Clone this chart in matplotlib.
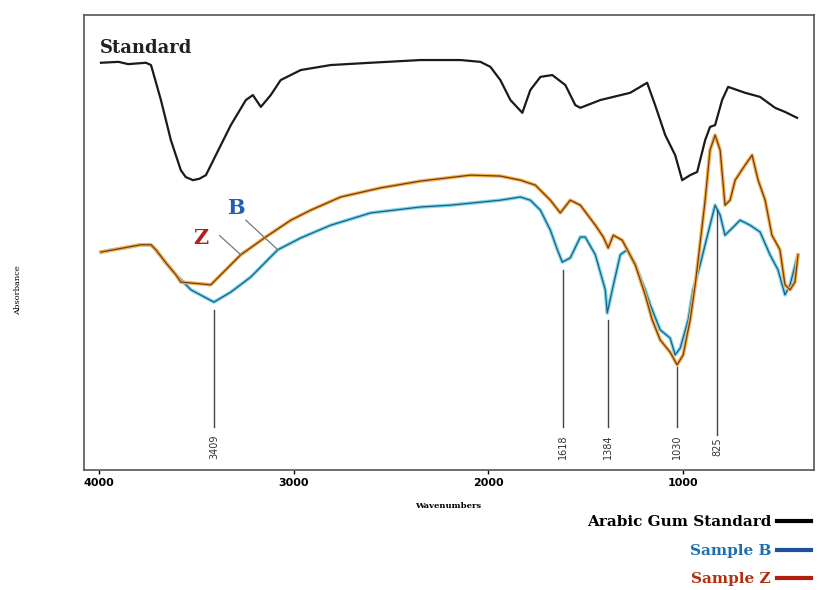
import numpy as np
import matplotlib.pyplot as plt
from matplotlib.lines import Line2D

# FTIR spectra (wavenumber in cm-1, absorbance in arbitrary units)
std_wn = [3990, 3900, 3850, 3759, 3733, 3682, 3631, 3580, 3555, 3518, 3485, 3451, 3400, 3323,
          3246, 3210, 3169, 3118, 3067, 2964, 2810, 2605, 2349, 2144, 2041, 1990, 1939, 1887,
          1826, 1785, 1733, 1672, 1605, 1554, 1528, 1426, 1272, 1185, 1144, 1092, 1041, 1005,
          964, 928, 887, 862, 836, 800, 769, 682, 605, 528, 477, 415]
std_abs = [89.5, 89.7, 89.2, 89.5, 89.0, 81.3, 72.5, 65.9, 64.4, 63.7, 64.0, 64.8, 69.2, 75.8,
           81.3, 82.4, 79.8, 82.4, 85.7, 87.9, 89.0, 89.5, 90.1, 90.1, 89.7, 88.6, 85.7, 81.3,
           78.5, 83.5, 86.4, 86.8, 84.6, 80.2, 79.6, 81.3, 82.9, 85.1, 80.2, 73.6, 69.2, 63.7,
           64.8, 65.5, 72.5, 75.4, 75.8, 81.3, 84.2, 82.9, 82.0, 79.6, 78.7, 77.4]

z_wn = [3990, 3785, 3733, 3708, 3656, 3605, 3580, 3426, 3349, 3272, 3144, 3015, 2913, 2759,
        2554, 2349, 2092, 1939, 1836, 1759, 1682, 1631, 1580, 1528, 1451, 1410, 1385, 1359,
        1313, 1246, 1195, 1159, 1118, 1067, 1031, 1000, 964, 938, 887, 862, 836, 810, 785,
        759, 733, 682, 646, 615, 579, 544, 503, 477, 451, 426, 410]
z_abs = [47.9, 49.5, 49.5, 48.4, 45.5, 42.9, 41.3, 40.7, 44.0, 47.3, 51.2, 54.9, 57.1, 60.0,
         62.0, 63.5, 64.8, 64.6, 63.7, 62.6, 59.3, 56.5, 59.3, 58.2, 53.8, 51.2, 48.8, 51.6,
         50.5, 45.1, 38.5, 33.0, 28.6, 25.9, 23.1, 25.3, 33.0, 40.7, 59.3, 70.3, 73.6, 70.3,
         58.2, 59.3, 63.7, 67.0, 69.2, 63.7, 59.3, 51.6, 48.4, 40.7, 39.6, 41.3, 47.3]

b_wn = [3990, 3785, 3733, 3708, 3656, 3605, 3528, 3410, 3323, 3221, 3082, 2964, 2810, 2605,
        2349, 2195, 1939, 1836, 1785, 1733, 1682, 1646, 1621, 1580, 1528, 1503, 1451, 1400,
        1390, 1364, 1323, 1287, 1246, 1195, 1169, 1118, 1067, 1041, 1015, 974, 949, 913, 862,
        836, 810, 785, 733, 708, 656, 605, 554, 513, 477, 451, 415]
b_abs = [47.9, 49.5, 49.5, 48.4, 45.5, 42.9, 39.6, 36.9, 39.1, 42.4, 48.4, 51.0, 53.8, 56.5,
         57.8, 58.2, 59.3, 60.0, 59.3, 57.1, 52.7, 48.4, 45.7, 46.6, 51.2, 51.2, 47.3, 39.6,
         34.5, 39.6, 47.3, 48.4, 45.1, 39.6, 36.3, 30.8, 29.0, 25.3, 26.8, 33.0, 39.6, 45.1,
         53.8, 58.2, 56.0, 51.6, 53.8, 54.9, 53.8, 52.3, 47.3, 44.0, 38.5, 40.7, 46.6]

# marked peaks and the height where each marker line starts
peaks = [3409, 1618, 1384, 1030, 825]
peak_tops = [35.2, 44.0, 33.0, 22.6, 57.1]

fig = plt.figure(figsize=(8.19, 5.90), dpi=100)
ax = fig.add_axes([0.1026, 0.2034, 0.8913, 0.7712])

serif = ['DejaVu Serif']

ax.plot(std_wn, std_abs, color='#1a1a1a', lw=1.6, solid_joinstyle='round')
ax.plot(b_wn, b_abs, color='#7fd6ea', lw=2.6, solid_joinstyle='round')
ax.plot(b_wn, b_abs, color='#1d5f86', lw=0.9)
ax.plot(z_wn, z_abs, color='#f2b451', lw=2.6, solid_joinstyle='round')
ax.plot(z_wn, z_abs, color='#7a3a12', lw=0.9)

for p, top in zip(peaks, peak_tops):
    bottom = 7.7 if p == 825 else 9.5
    ax.plot([p, p], [top, bottom], color='#444444', lw=1.0)
    ax.text(p, 5.2, str(p), rotation=90, ha='center', va='center',
            fontsize=7, color='#333333')

ax.text(3995, 92.7, 'Standard', fontsize=13, fontweight='bold', family=serif,
        color='#222222', ha='left', va='center')
ax.text(3475, 51.0, 'Z', fontsize=15, fontweight='bold', family=serif,
        color='#b02020', ha='center', va='center')
ax.text(3295, 57.5, 'B', fontsize=15, fontweight='bold', family=serif,
        color='#1f5fb0', ha='center', va='center')
ax.plot([3380, 3272], [51.5, 47.3], color='#777777', lw=0.9)
ax.plot([3246, 3082], [54.9, 48.4], color='#777777', lw=0.9)

ax.set_xlim(4077, 328)
ax.set_ylim(0, 100)
ax.set_xticks([4000, 3000, 2000, 1000])
ax.set_xticklabels(['4000', '3000', '2000', '1000'], fontsize=8, fontweight='bold')
ax.set_yticks([])
ax.tick_params(axis='x', length=3, width=1, direction='out', pad=3)
for s in ax.spines.values():
    s.set_color('#555555')
    s.set_linewidth(1.2)

fig.text(0.547, 0.142, 'Wavenumbers', fontsize=6, fontweight='bold', family=serif,
         ha='center', va='center')
fig.text(0.022, 0.508, 'Absorbance', fontsize=6, family=serif, rotation=90,
         ha='center', va='center')

handles = [Line2D([], [], color='black', lw=3),
           Line2D([], [], color='#1f4fa0', lw=3),
           Line2D([], [], color='#b02010', lw=3)]
labels = ['Arabic Gum Standard', 'Sample B', 'Sample Z']
fig.legend(handles, labels, loc='lower right', bbox_to_anchor=(1.003, -0.012),
           markerfirst=False, frameon=False, handlelength=2.2, handletextpad=0.4,
           labelspacing=0.95, borderaxespad=0.3,
           prop={'family': serif, 'weight': 'bold', 'size': 11},
           labelcolor=['black', '#1f6fb0', '#b03010'])

fig.savefig('out.png', dpi=100)
